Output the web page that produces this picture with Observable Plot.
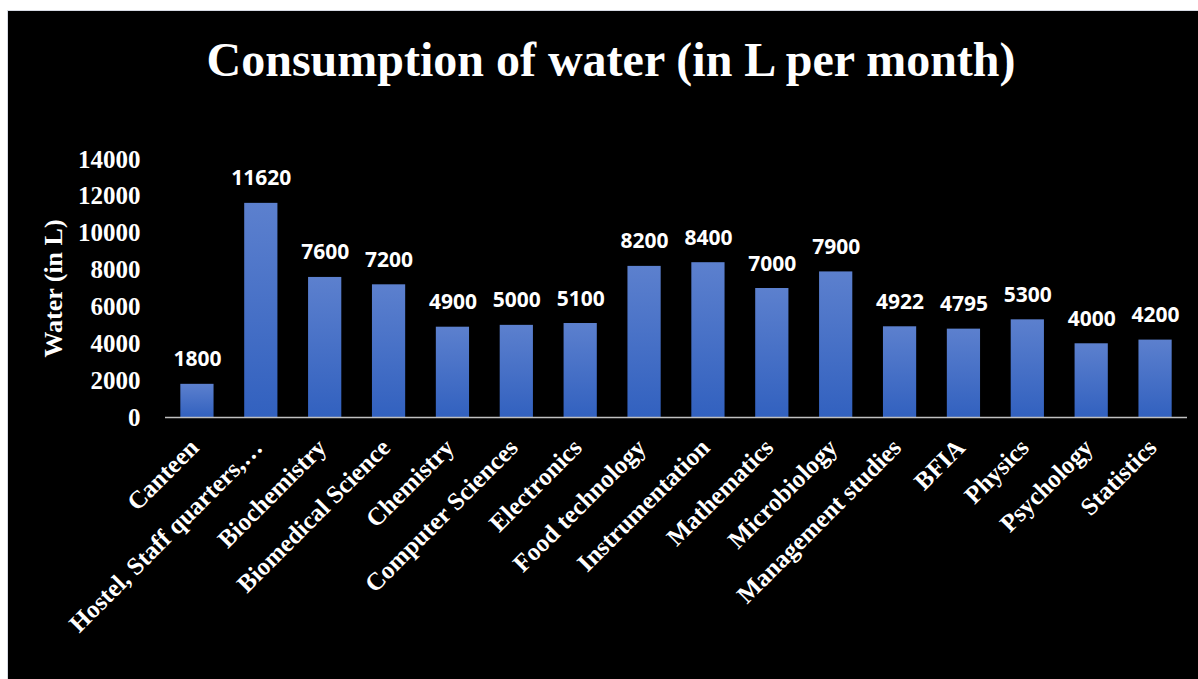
<!DOCTYPE html>
<html>
<head>
<meta charset="utf-8">
<script src="https://cdn.jsdelivr.net/npm/d3@7"></script>
<script src="https://cdn.jsdelivr.net/npm/@observablehq/plot@0.6"></script>
<style>
  html, body { margin: 0; padding: 0; background: #ffffff; width: 1198px; height: 679px; overflow: hidden; }
  #box { position: absolute; left: 7px; top: 10px; width: 1191px; height: 669px; box-sizing: border-box;
         background: #000; border-left: 1px solid #d6dae3; border-top: 1px solid #d6dae3; }
  #title { position: absolute; left: 0; top: 25px; width: 1206px; text-align: center; margin: 0;
           font-family: "Liberation Serif", "Times New Roman", serif; font-weight: bold; font-size: 48px;
           line-height: 48px; color: #fff; white-space: nowrap; }
  #chart { position: absolute; left: 0; top: 89px; }
</style>
</head>
<body>
<div id="box">
  <h1 id="title">Consumption of water (in L per month)</h1>
  <div id="chart"></div>
</div>
<script>
const categories = ["Canteen", "Hostel, Staff quarters,\u2026", "Biochemistry", "Biomedical Science", "Chemistry",
  "Computer Sciences", "Electronics", "Food technology", "Instrumentation", "Mathematics", "Microbiology",
  "Management studies", "BFIA", "Physics", "Psychology", "Statistics"];
const values = [1800, 11620, 7600, 7200, 4900, 5000, 5100, 8200, 8400, 7000, 7900, 4922, 4795, 5300, 4000, 4200];
const yTicks = [0, 2000, 4000, 6000, 8000, 10000, 12000, 14000];
const yLabel = "Water (in L)";

const data = categories.map((c, i) => ({category: c, value: values[i]}));

const defs = () => {
  const d = d3.create("svg:defs");
  const g = d.append("linearGradient").attr("id", "barGrad")
    .attr("x1", 0).attr("y1", 0).attr("x2", 0).attr("y2", 1);
  g.append("stop").attr("offset", "0%").attr("stop-color", "#5c80ce");
  g.append("stop").attr("offset", "100%").attr("stop-color", "#3261bf");
  return d.node();
};

const serif = "'Liberation Serif', 'Times New Roman', serif";

const plot = Plot.plot({
  width: 1190,
  height: 579,
  marginLeft: 157,
  marginRight: 11,
  marginTop: 59,
  marginBottom: 262,
  style: {background: "transparent", color: "#fff", overflow: "visible"},
  x: {domain: categories, paddingInner: 0.48, paddingOuter: 0.24, round: false, label: null},
  y: {domain: [0, 14000], label: null},
  marks: [
    defs,
    Plot.barY(data, {x: "category", y: "value", fill: "url(#barGrad)"}),
    Plot.ruleY([0], {stroke: "#c0c0c0", strokeWidth: 1.6}),
    Plot.axisY({ticks: yTicks, tickSize: 0, tickPadding: 25, tickFormat: d => String(d),
      fontSize: 25, fontWeight: "bold", fontFamily: serif, fill: "#fff", label: null}),
    Plot.axisX({tickSize: 0, tickPadding: 26, dx: -3, tickRotate: -45, fontSize: 25, fontWeight: "bold",
      fontFamily: serif, fill: "#fff", label: null}),
    Plot.text([yLabel], {frameAnchor: "left", textAnchor: "middle", rotate: -90, dx: -112, text: d => d,
      fontSize: 26, fontWeight: "bold", fontFamily: serif, fill: "#fff"}),
    Plot.text(data, {x: "category", y: "value", text: d => String(d.value), lineAnchor: "bottom", dy: -18,
      fontSize: 21, fontWeight: "bold", fontFamily: "'Open Sans', sans-serif", fill: "#fff"})
  ]
});
document.getElementById("chart").appendChild(plot);
</script>
</body>
</html>
